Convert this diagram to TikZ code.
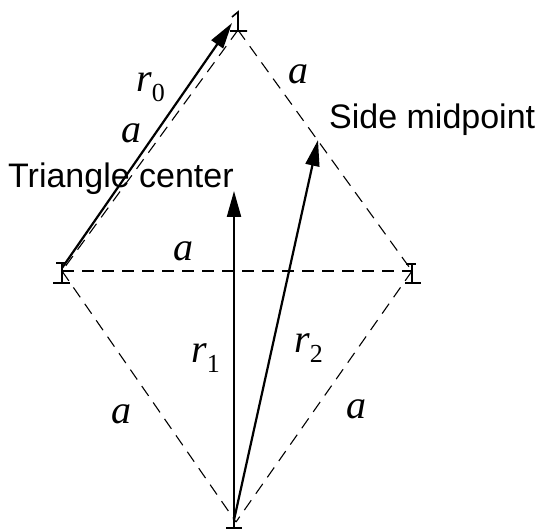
\documentclass[tikz,border=0pt]{standalone}
\usepackage{fontspec}
\setmainfont{Liberation Serif}
\newfontfamily\labsans{Liberation Sans}
\usetikzlibrary{arrows.meta}
\begin{document}
\begin{tikzpicture}[x=1pt,y=-1pt,
  edge/.style={dash pattern=on 12pt off 8pt, line width=1.1pt},
  vec/.style={line width=2.2pt, -{Triangle[length=26pt,width=14pt]}},
  vtxmark/.style={line width=1.6pt},
  lab/.style={font=\fontsize{40}{40}\selectfont\itshape, inner sep=0pt},
  txt/.style={font=\labsans\fontsize{34}{34}\selectfont, inner sep=0pt}]
\useasboundingbox (0,0) rectangle (543,529);
\coordinate (T) at (238,30);
\coordinate (L) at (62,271);
\coordinate (R) at (412,271);
\coordinate (B) at (236,522);
\coordinate (r0s) at (62,268);
\coordinate (r0e) at (232,23);
\coordinate (C) at (234,191);
\coordinate (M) at (318,140);
\coordinate (B1) at (234,520);
% rhombus edges
\draw[edge] (T) -- (L);
\draw[edge] (T) -- (R);
\draw[edge] (L) -- (R);
\draw[edge] (L) -- (B);
\draw[edge] (R) -- (B);
% vertex marks
\draw[vtxmark] (232,17) -- (238,12) -- (238,31) (230,31) -- (247,31);
\draw[vtxmark] (56,263) -- (65,263) (62,263) -- (62,283) (53,283) -- (70,283);
\draw[vtxmark] (406,264) -- (416,264) (412,264) -- (412,283) (405,283) -- (421,283);
\draw[vtxmark] (234,514) -- (234,529) (226,528) -- (242,528);
% vectors
\draw[vec] (r0s) -- (r0e);
\draw[vec] (B1) -- (C);
\draw[vec] (B1) -- (M);
% labels
\node[lab, anchor=base west] (lr0) at (136,92) {r\raisebox{-0.25em}{\fontsize{26}{26}\selectfont\upshape 0}};
\node[lab] (la1) at (131,133) {a};
\node[lab] (la2) at (298,74) {a};
\node[lab] (la3) at (183,251) {a};
\node[lab] (la4) at (121,414) {a};
\node[lab] (la5) at (356,409) {a};
\node[lab, anchor=base west] (lr1) at (191,362) {r\raisebox{-0.25em}{\fontsize{26}{26}\selectfont\upshape 1}};
\node[lab, anchor=base west] (lr2) at (294,352) {r\raisebox{-0.25em}{\fontsize{26}{26}\selectfont\upshape 2}};
\node[txt, anchor=base west] (tc) at (8,188) {Triangle center};
\node[txt, anchor=base west] (sm) at (329,129) {Side midpoint};
\end{tikzpicture}
\end{document}
